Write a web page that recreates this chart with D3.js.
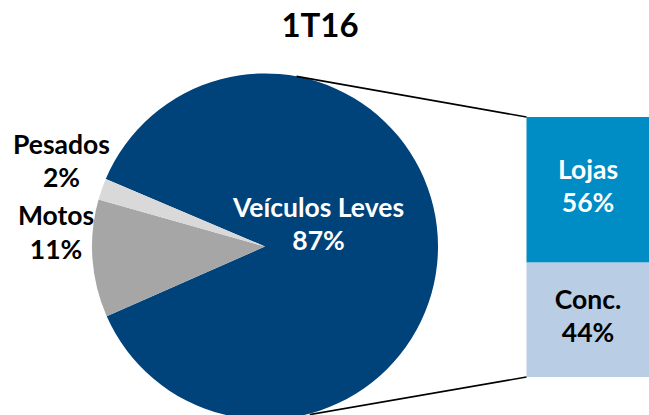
<!DOCTYPE html>
<html><head><meta charset="utf-8">
<script src="https://cdn.jsdelivr.net/npm/d3@7"></script>
<style>body{margin:0;background:#fff}svg{display:block}text{font-family:Lato,"Open Sans",sans-serif;font-weight:bold}</style>
</head><body>
<script>
const title = "1T16";
const pieCategories = ["Veículos Leves", "Motos", "Pesados"];
const pieValues = [87, 11, 2];
const pieColors = ["#00427A", "#A6A6A6", "#D9D9D9"];
const barCategories = ["Lojas", "Conc."];
const barValues = [56, 44];
const barColors = ["#008CC4", "#B9CDE5"];
const barTextColors = ["#ffffff", "#000000"];

const W = 649, H = 415;
const svg = d3.select("body").append("svg").attr("width", W).attr("height", H);

svg.append("text").attr("x", 320).attr("y", 37).attr("text-anchor", "middle")
  .attr("font-size", 33).attr("fill", "#000").text(title);

const cx = 265, cy = 246.5, R = 173;
const deg = Math.PI / 180;
const start = 293 * deg;
const pie = d3.pie().sort(null).value(d => d).startAngle(start).endAngle(start + 2 * Math.PI);
const arcs = pie(pieValues);
const arc = d3.arc().innerRadius(0).outerRadius(R);
const g = svg.append("g").attr("transform", `translate(${cx},${cy})`);
g.selectAll("path").data(arcs).enter().append("path")
  .attr("d", arc).attr("fill", (d, i) => pieColors[i]);

// bar of pie
const bx = 526.5, bTop = 117, bBot = 377, bw = 130;
const y = d3.scaleLinear().domain([0, d3.sum(barValues)]).range([bTop, bBot]);
let acc = 0;
const segs = barValues.map((v, i) => { const s = { i, v, y0: y(acc), y1: y(acc + v) }; acc += v; return s; });
svg.selectAll("rect.seg").data(segs).enter().append("rect")
  .attr("x", bx).attr("y", d => d.y0).attr("width", bw).attr("height", d => d.y1 - d.y0)
  .attr("fill", d => barColors[d.i]);

// connector lines
const pTop = [cx + R * Math.sin(10.5 * deg), cy - R * Math.cos(10.5 * deg)];
const pBot = [cx + R * Math.sin(165 * deg), cy - R * Math.cos(165 * deg)];
svg.append("line").attr("x1", pTop[0]).attr("y1", pTop[1]).attr("x2", bx).attr("y2", bTop)
  .attr("stroke", "#000").attr("stroke-width", 1.6);
svg.append("line").attr("x1", pBot[0]).attr("y1", pBot[1] + 1).attr("x2", bx).attr("y2", bBot)
  .attr("stroke", "#000").attr("stroke-width", 1.6);

const fs = 26.5;
function label(x, y1, lines, color) {
  const t = svg.append("text").attr("text-anchor", "middle").attr("font-size", fs).attr("fill", color);
  lines.forEach((l, k) => t.append("tspan").attr("x", x).attr("y", y1 + k * 33.5).text(l));
}
const pct = v => v + "%";
label(318.5, 216.5, [pieCategories[0], pct(pieValues[0])], "#fff");
label(56, 225, [pieCategories[1], pct(pieValues[1])], "#000");
label(61.5, 153.5, [pieCategories[2], pct(pieValues[2])], "#000");
segs.forEach(s => label(588, (s.y0 + s.y1) / 2 - 11, [barCategories[s.i], pct(s.v)], barTextColors[s.i]));
</script>
</body></html>
